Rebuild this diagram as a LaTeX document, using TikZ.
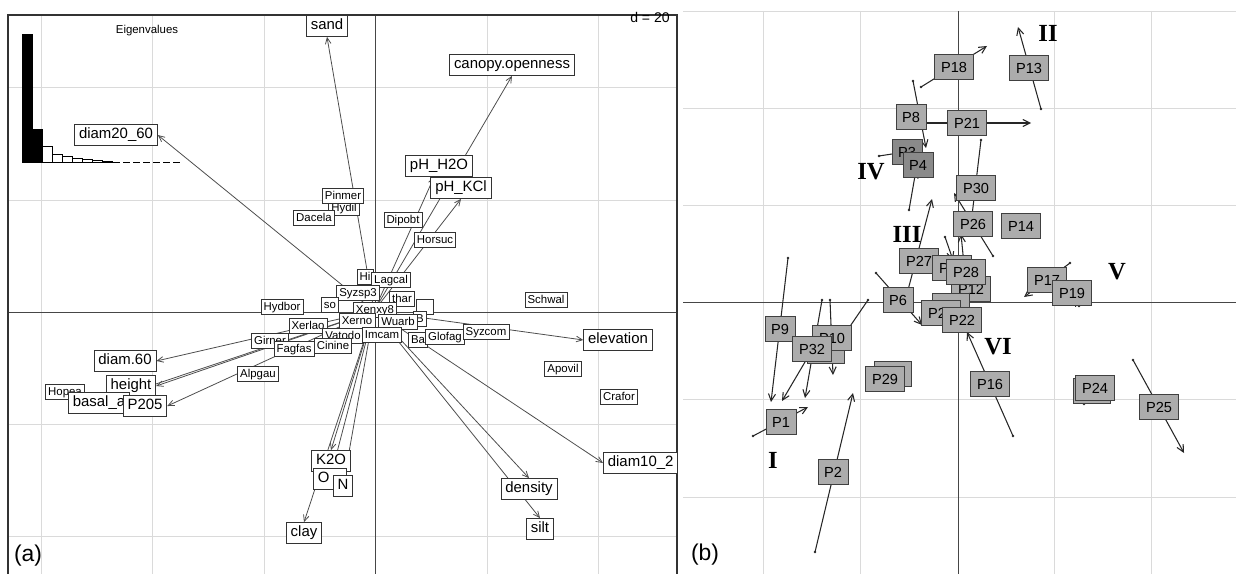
\documentclass[tikz,border=0pt]{standalone}
\usepackage{fontspec}
\setmainfont{Liberation Sans}
\newfontfamily\romfont{Liberation Serif}
\usetikzlibrary{arrows.meta}
\pgfdeclarelayer{grid}
\pgfdeclarelayer{arrows}
\pgfsetlayers{grid,arrows,main}
\definecolor{gridgray}{RGB}{218,218,218}
\definecolor{axisgray}{RGB}{70,70,70}
\definecolor{boxgray}{RGB}{172,172,172}
\definecolor{boxdark}{RGB}{138,138,138}
\tikzset{vec/.style={-{Straight Barb[length=3.5pt,width=3.2pt]}, line width=0.45pt, draw=black!70}}

\begin{document}
\begin{tikzpicture}[x=0.02cm, y=-0.02cm,
    var/.style={draw=black!80, fill=white, line width=0.5pt, font=\fontsize{8.5}{9}\selectfont, inner xsep=2.5pt, inner ysep=0pt, text height=6.2pt, text depth=1.8pt, minimum height=11.9pt},
    spp/.style={draw=black!80, fill=white, line width=0.4pt, font=\fontsize{6.5}{7}\selectfont, inner xsep=1.5pt, inner ysep=0pt, text height=4.8pt, text depth=1.3pt, minimum height=8.5pt},
    site/.style={draw=black!75, fill=boxgray, line width=0.5pt, font=\fontsize{8.3}{9}\selectfont, inner xsep=3.5pt, inner ysep=0pt, text height=6pt, text depth=0pt, minimum height=14pt},
    sitedk/.style={site, fill=boxdark},
    grp/.style={font=\romfont\bfseries\fontsize{14}{14}\selectfont},
    tag/.style={font=\fontsize{13}{13}\selectfont},
    gridline/.style={draw=gridgray, line width=0.5pt},
    axis/.style={draw=axisgray, line width=0.5pt},
    traj/.style={-{Straight Barb[length=4pt,width=4pt]}, line width=0.6pt, draw=black!85},
]
\useasboundingbox (0,0) rectangle (1236,574);

% (a)
\begin{pgfonlayer}{grid}
\foreach \gx in {41,152,264,487,598} \draw[gridline] (\gx,15) -- (\gx,576);
\foreach \gy in {87,200,424,536} \draw[gridline] (8,\gy) -- (677,\gy);
\draw[axis] (375,15) -- (375,576);
\draw[axis] (8,312) -- (677,312);
\draw[black!80, line width=0.6pt] (8,576) -- (8,15) -- (677,15) -- (677,576);
\end{pgfonlayer}

\node[font=\fontsize{6.5}{7}\selectfont] (eigtitle) at (147,31) {Eigenvalues};
\foreach \h [count=\i] in {128,33} \draw[fill=black, line width=0.4pt] ({12+10*\i},162) rectangle ({22+10*\i},162-\h);
\foreach \h [count=\i from 3] in {16,8,6,4,2.5,1.5,1} \draw[fill=white, line width=0.4pt] ({12+10*\i},162) rectangle ({22+10*\i},162-\h);
\foreach \i in {10,...,16} \draw[line width=0.5pt] ({13+10*\i},162) -- ({20+10*\i},162);
\node[font=\fontsize{8}{9}\selectfont, anchor=base] (dscale) at (650,23) {d = 20};

\coordinate (o) at (374,311);
\node[spp] (hydil) at (344,208) {Hydil};
\node[spp] (pinmer) at (343,196) {Pinmer};
\node[spp] (dacela) at (314,218) {Dacela};
\node[spp] (dipobt) at (403,220) {Dipobt};
\node[spp] (horsuc) at (435,240) {Horsuc};
\node[spp] (hi) at (365,277) {Hi};
\node[spp] (lagcal) at (391,280) {Lagcal};
\node[spp] (syzsp) at (358,293) {Syzsp3};
\node[spp] (thar) at (402,299) {thar};
\node[spp, minimum width=10pt] (sppo) at (425,307) {};
\node[spp] (sppb) at (420,319) {B};
\node[spp] (so) at (330,305) {so};
\node[spp] (hydbor) at (282,307) {Hydbor};
\node[spp] (xenxy) at (375,310) {Xenxy8};
\node[spp] (xerno) at (357,321) {Xerno};
\node[spp] (wuarb) at (398,322) {Wuarb};
\node[spp] (xerlao) at (308,326) {Xerlao};
\node[spp] (vatodo) at (343,336) {Vatodo};
\node[spp] (imcam) at (382,335) {Imcam};
\node[spp] (ba) at (418,340) {Ba};
\node[spp] (glofag) at (445,337) {Glofag};
\node[spp] (syzcom) at (486,332) {Syzcom};
\node[spp] (girner) at (270,341) {Girner};
\node[spp] (cinine) at (333,346) {Cinine};
\node[spp] (fagfas) at (294,349) {Fagfas};
\node[spp] (alpgau) at (258,374) {Alpgau};
\node[spp] (schwal) at (546,300) {Schwal};
\node[spp] (apovil) at (563,369) {Apovil};
\node[spp] (crafor) at (619,397) {Crafor};
\node[spp] (hopea) at (65,392) {Hopea};

\node[var] (sand) at (327,26) {sand};
\node[var] (d2060) at (116,135) {diam20\_60};
\node[var] (canopy) at (512,65) {canopy.openness};
\node[var] (phh) at (439,166) {pH\_H2O};
\node[var] (phk) at (461,188) {pH\_KCl};
\node[var] (elev) at (618,340) {elevation};
\node[var, anchor=west] (d1020) at (603,463) {diam10\_2};
\node[var] (dens) at (529,489) {density};
\node[var] (silt) at (540,529) {silt};
\node[var] (clay) at (304,533) {clay};
\node[var] (ktwo) at (331,461) {K2O};
\node[var] (om) at (330,479) {O\phantom{M}};
\node[var] (nn) at (343,486) {N};
\node[var] (d60) at (125,361) {diam.60};
\node[var] (hgt) at (131,386) {height};
\node[var, anchor=west] (basal) at (68,403) {basal\_a\hspace{15pt}};
\node[var] (ptwo) at (145,406) {P205};
\node[tag] (taga) at (28,556) {(a)};

\begin{pgfonlayer}{arrows}
\draw[vec] (o) -- (sand.south);
\draw[vec] (o) -- (d2060.east);
\draw[vec] (o) -- (canopy.south);
\draw[vec] (o) -- (phh);
\draw[vec] (o) -- (phk.south);
\draw[vec] (o) -- (elev.west);
\draw[vec] (o) -- (d1020.west);
\draw[vec] (o) -- (dens.north);
\draw[vec] (o) -- (silt.north);
\draw[vec] (o) -- (clay.north);
\draw[vec] (o) -- (ktwo.north);
\draw[vec] (o) -- (om);
\draw[vec] (o) -- (nn);
\draw[vec] (o) -- (d60.east);
\draw[vec] (o) -- (hgt.east);
\draw[vec] (o) -- (basal);
\draw[vec] (o) -- (ptwo.east);
\end{pgfonlayer}

% (b)
\begin{pgfonlayer}{grid}
\foreach \gx in {763,860,1054,1151} \draw[gridline] (\gx,11) -- (\gx,574);
\foreach \gy in {11,108,205,399,497} \draw[gridline] (683,\gy) -- (1236,\gy);
\draw[axis] (958,11) -- (958,574);
\draw[axis] (683,302) -- (1236,302);
\end{pgfonlayer}

\begin{pgfonlayer}{arrows}
\foreach \sx/\sy/\ex/\ey [count=\i] in {921/87/987/46, 1041/109/1018/27, 926/123/1031/123, 913/81/926/148, 879/156/905/152, 909/210/916/170, 981/140/970/232, 993/256/954/193, 945/237/953/260, 965/275/961/234, 908/290/932/199, 876/273/922/325, 868/300/842/338, 788/258/771/402, 822/300/805/398, 830/300/833/375, 815/345/782/401, 753/436/808/407, 815/552/853/393, 1013/436/967/332, 1133/360/1184/453, 1070/263/1024/297, 1084/404/1090/395, 1079/306/1075/298} {
  \coordinate (s\i) at (\sx,\sy);
  \coordinate (e\i) at (\ex,\ey);
  \draw[traj] (s\i) -- (e\i);
  \fill[black!85] (s\i) circle (1.4);
}
\end{pgfonlayer}

\node[site] (p18) at (954,67) {P18};
\node[site] (p13) at (1029,68) {P13};
\node[site] (p8) at (911,117) {P8};
\node[site] (p21) at (967,123) {P21};
\node[sitedk] (p3) at (907,152) {P3};
\node[sitedk] (p4) at (918,165) {P4};
\node[site] (p30) at (976,188) {P30};
\node[site] (p26) at (973,224) {P26};
\node[site] (p14) at (1021,226) {P14};
\node[site] (p27) at (919,261) {P27};
\node[site] (pback) at (952,268) {P\phantom{00}};
\node[site] (p12) at (971,289) {P12};
\node[site] (p28) at (966,272) {P28};
\node[site] (p17) at (1047,280) {P17};
\node[site] (p19) at (1072,293) {P19};
\node[site] (p6) at (898,300) {P6};
\node[site, minimum width=21.5pt] (pback2) at (951,306) {};
\node[site] (p2x) at (941,313) {P2\phantom{0}};
\node[site] (p22) at (962,320) {P22};
\node[site] (p9) at (780,329) {P9};
\node[site, minimum width=21.5pt] (pback3) at (826,351) {};
\node[site] (p10) at (832,338) {P10};
\node[site] (p32) at (812,349) {P32};
\node[site, minimum width=21.5pt] (p29b) at (893,374) {};
\node[site] (p29) at (885,379) {P29};
\node[site] (p1) at (781,422) {P1};
\node[site] (p2) at (833,472) {P2};
\node[site] (p16) at (990,384) {P16};
\node[site, minimum width=21.5pt] (p24b) at (1092,391) {};
\node[site] (p24) at (1095,388) {P24};
\node[site] (p25) at (1159,407) {P25};

\node[grp] (gI) at (773,460) {I};
\node[grp] (gII) at (1048,33) {II};
\node[grp] (gIII) at (907,234) {III};
\node[grp] (gIV) at (871,172) {IV};
\node[grp] (gV) at (1117,272) {V};
\node[grp] (gVI) at (998,347) {VI};
\node[tag] (tagb) at (705,555) {(b)};
\end{tikzpicture}
\end{document}
